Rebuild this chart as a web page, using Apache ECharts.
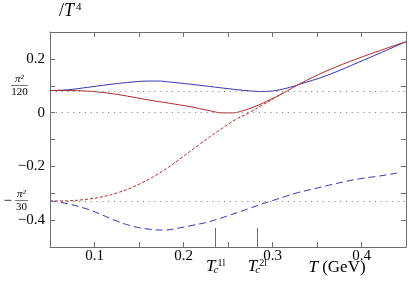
<!DOCTYPE html>
<html><head><meta charset="utf-8">
<script src="https://cdn.jsdelivr.net/npm/echarts@6/dist/echarts.min.js"></script>
<style>html,body{margin:0;padding:0;background:#fff}#c{width:409px;height:282px}</style>
</head><body><div id="c"></div>
<script>
// ---- data ----
const xTickLabels = [0.1, 0.2, 0.3, 0.4];
const yTickLabels = [0.2, 0, -0.2, -0.4];
const PI2_120 = Math.PI * Math.PI / 120;
const PI2_30 = Math.PI * Math.PI / 30;
const fracValues = [PI2_120, -PI2_30];
const minusValues = [-PI2_30];
const refLines = [PI2_120, 0, -PI2_30];
const tcValues = [0.236, 0.283];
const tcSup = ['1l', '2l'];

const blueSolidT = [0.05, 0.07, 0.092, 0.115, 0.137, 0.16, 0.172, 0.184, 0.207, 0.229, 0.251, 0.274, 0.289, 0.304, 0.319, 0.33, 0.36, 0.398, 0.45];
const blueSolidV = [0.0822, 0.085, 0.094, 0.104, 0.112, 0.1175, 0.1175, 0.114, 0.106, 0.0975, 0.0888, 0.081, 0.0787, 0.0824, 0.0936, 0.105, 0.137, 0.189, 0.264];

const redSolidT = [0.05, 0.07, 0.092, 0.115, 0.137, 0.16, 0.184, 0.207, 0.229, 0.244, 0.255, 0.267, 0.282, 0.297, 0.312, 0.33, 0.36, 0.398, 0.45];
const redSolidV = [0.0822, 0.082, 0.080, 0.0727, 0.0614, 0.0476, 0.035, 0.0225, 0.0075, -0.001, -0.001, 0.0075, 0.025, 0.0476, 0.0727, 0.106, 0.154, 0.204, 0.264];

const redDashT = [0.05, 0.07, 0.087, 0.106, 0.124, 0.143, 0.162, 0.181, 0.199, 0.218, 0.2405, 0.259, 0.274, 0.289, 0.304, 0.312];
const redDashV = [-0.329, -0.328, -0.324, -0.315, -0.300, -0.277, -0.246, -0.208, -0.165, -0.118, -0.065, -0.025, 0.0, 0.029, 0.058, 0.0727];

const blueDashT = [0.05, 0.061, 0.087, 0.106, 0.124, 0.143, 0.162, 0.178, 0.1955, 0.2105, 0.2255, 0.2367, 0.2498, 0.263, 0.276, 0.289, 0.3004, 0.3154, 0.328, 0.342, 0.37, 0.398, 0.42, 0.44];
const blueDashV = [-0.329, -0.333, -0.354, -0.377, -0.402, -0.423, -0.434, -0.437, -0.429, -0.419, -0.409, -0.398, -0.384, -0.369, -0.354, -0.339, -0.327, -0.311, -0.298, -0.287, -0.265, -0.246, -0.236, -0.225];

// ---- chart ----
const FONT = 'Liberation Serif';
const AX = '#6e6e6e';
const RED = '#b02a2a';
const BLUE = '#3434b0';
const zip = (a, b) => a.map((t, i) => [t, b[i]]);
const fmtNum = v => (v < 0 ? '\u2212' : '') + String(Math.abs(Math.round(v * 10) / 10));

const chart = echarts.init(document.getElementById('c'), null, { renderer: 'canvas' });

const frameAxis = {
  axisLine: { show: true, onZero: false, lineStyle: { color: AX, width: 1 } },
  axisTick: { show: true, inside: true, length: 5, lineStyle: { color: AX, width: 1 } },
  splitLine: { show: false },
};

chart.setOption({
  animation: false,
  backgroundColor: '#fff',
  title: {
    text: '{a|/}{t|T}{s|4}',
    left: 59, top: 2, padding: 0,
    textStyle: {
      fontFamily: FONT, fontSize: 18, fontWeight: 'normal', color: '#000',
      rich: {
        a: { fontFamily: FONT, fontSize: 18, color: '#000', lineHeight: 18 },
        t: { fontFamily: FONT, fontSize: 18, fontStyle: 'italic', color: '#000', lineHeight: 18 },
        s: { fontFamily: FONT, fontSize: 11, color: '#000', lineHeight: 10, verticalAlign: 'top', padding: [0, 0, 0, 2] }
      }
    }
  },
  grid: { left: 50, right: 3, top: 32, bottom: 35, containLabel: false, outerBoundsMode: 'none' },
  xAxis: [
    Object.assign({}, frameAxis, {
      type: 'value', position: 'bottom', min: 0.05, max: 0.45, interval: 0.05,
      axisLabel: {
        customValues: xTickLabels, formatter: fmtNum, margin: 2,
        fontFamily: FONT, fontSize: 15, color: '#000'
      },
      name: '{t|T} (GeV)', nameLocation: 'middle', nameGap: 12, nameMoveOverlap: false,
      nameTextStyle: {
        fontFamily: FONT, fontSize: 17, color: '#000', padding: [0, 0, 0, 218], align: 'center', verticalAlign: 'top',
        rich: { t: { fontFamily: FONT, fontSize: 17, fontStyle: 'italic', color: '#000' } }
      }
    }),
    {
      type: 'value', position: 'bottom', min: 0.05, max: 0.45,
      axisLine: { show: false, onZero: false },
      splitLine: { show: false },
      axisTick: { show: true, inside: true, length: 19, customValues: tcValues, lineStyle: { color: AX, width: 1 } },
      axisLabel: {
        customValues: tcValues, margin: 11, align: 'center',
        formatter: v => {
          let k = 0;
          tcValues.forEach((t, i) => { if (Math.abs(t - v) < Math.abs(tcValues[k] - v)) k = i; });
          return '{t|T}{c|c}{u|' + tcSup[k] + '}';
        },
        rich: {
          t: { fontFamily: FONT, fontSize: 17, fontStyle: 'italic', color: '#000', lineHeight: 18 },
          c: { fontFamily: FONT, fontSize: 11, fontStyle: 'italic', color: '#000', width: 1, align: 'left', lineHeight: 10, verticalAlign: 'bottom' },
          u: { fontFamily: FONT, fontSize: 10, color: '#000', lineHeight: 10, verticalAlign: 'top', padding: [0, 0, 0, 1] }
        }
      }
    },
    Object.assign({}, frameAxis, {
      type: 'value', position: 'top', min: 0.05, max: 0.45, interval: 0.05,
      axisLabel: { show: false }
    })
  ],
  yAxis: [
    Object.assign({}, frameAxis, {
      type: 'value', position: 'left', min: -0.5, max: 0.3, interval: 0.1,
      axisLabel: {
        customValues: yTickLabels, formatter: fmtNum, margin: 5,
        fontFamily: FONT, fontSize: 15, color: '#000'
      }
    }),
    Object.assign({}, frameAxis, {
      type: 'value', position: 'right', min: -0.5, max: 0.3, interval: 0.1,
      axisLabel: { show: false }
    }),
    {
      type: 'value', position: 'left', min: -0.5, max: 0.3,
      axisLine: { show: false, onZero: false }, axisTick: { show: false }, splitLine: { show: false },
      axisLabel: {
        customValues: fracValues, margin: 22, align: 'right',
        formatter: v => v > 0
          ? '{n1|\u03c0\u00b2}\n{b1|}\n{d1|120}\n{e|}'
          : '{n2|\u03c0\u00b2}\n{b2|}\n{d2|30}',
        rich: {
          n1: { fontFamily: FONT, fontSize: 11, fontStyle: 'italic', color: '#000', width: 17, align: 'center', lineHeight: 10 },
          d1: { fontFamily: FONT, fontSize: 11, color: '#000', width: 17, align: 'center', lineHeight: 11 },
          b1: { width: 17, height: 1, lineHeight: 3, backgroundColor: '#777' },
          e: { width: 1, height: 9, lineHeight: 9 },
          n2: { fontFamily: FONT, fontSize: 11, fontStyle: 'italic', color: '#000', width: 13, align: 'center', lineHeight: 10 },
          d2: { fontFamily: FONT, fontSize: 11, color: '#000', width: 13, align: 'center', lineHeight: 11 },
          b2: { width: 13, height: 1, lineHeight: 3, backgroundColor: '#777' }
        }
      }
    },
    {
      type: 'value', position: 'left', min: -0.5, max: 0.3,
      axisLine: { show: false, onZero: false }, axisTick: { show: false }, splitLine: { show: false },
      axisLabel: {
        customValues: minusValues, margin: 38, align: 'right',
        formatter: () => '\u2212',
        fontFamily: FONT, fontSize: 15, color: '#000'
      }
    }
  ],
  series: [
    {
      type: 'line', name: 'blue', data: zip(blueSolidT, blueSolidV), smooth: 0.4,
      showSymbol: false, lineStyle: { color: BLUE, width: 1 }, z: 3,
      markLine: {
        silent: true, symbol: 'none', label: { show: false },
        lineStyle: { color: '#8a8a8a', type: [1.2, 4.6], width: 1.1 },
        data: refLines.map(v => ({ yAxis: v }))
      }
    },
    {
      type: 'line', name: 'red', data: zip(redSolidT, redSolidV), smooth: 0.4,
      showSymbol: false, lineStyle: { color: RED, width: 1 }, z: 3
    },
    {
      type: 'line', name: 'redDash', data: zip(redDashT, redDashV), smooth: 0.4,
      showSymbol: false, lineStyle: { color: RED, width: 1, type: [3, 2] }, z: 3
    },
    {
      type: 'line', name: 'blueDash', data: zip(blueDashT, blueDashV), smooth: 0.4,
      showSymbol: false, lineStyle: { color: BLUE, width: 1, type: [7, 4] }, z: 3
    }
  ]
});
</script></body></html>
